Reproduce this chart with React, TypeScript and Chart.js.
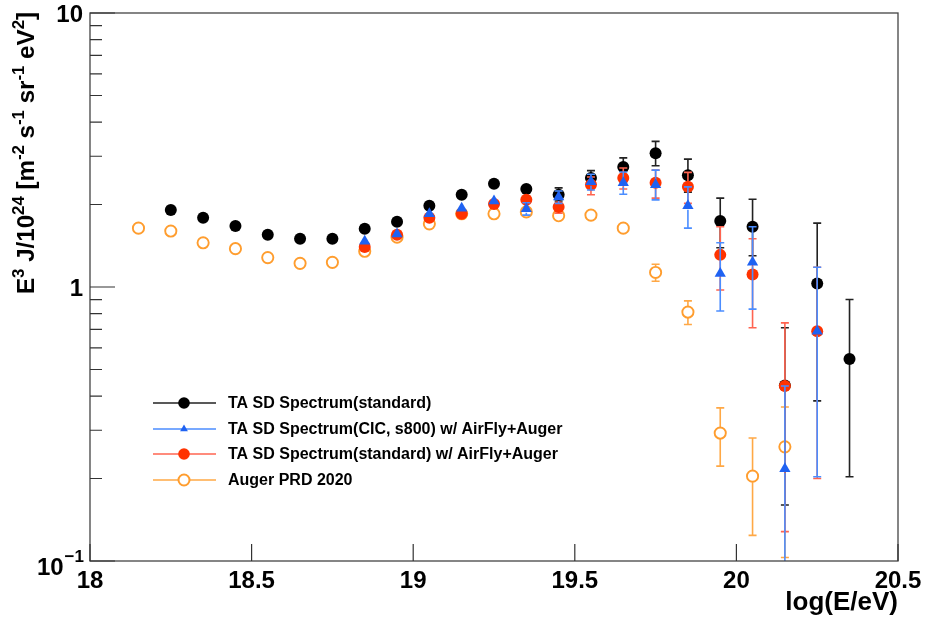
import React, { useEffect, useRef } from "react";
import { Chart, registerables } from "chart.js";

Chart.register(...registerables);

// ---------------- data ----------------
const taStdX = [18.25, 18.35, 18.45, 18.55, 18.65, 18.75, 18.85, 18.95, 19.05, 19.15, 19.25, 19.35, 19.45, 19.55, 19.65, 19.75, 19.85, 19.95, 20.05, 20.15, 20.25, 20.35];
const taStdY = [1.91, 1.79, 1.67, 1.55, 1.5, 1.5, 1.63, 1.73, 1.98, 2.17, 2.38, 2.28, 2.17, 2.5, 2.74, 3.08, 2.56, 1.74, 1.66, 0.437, 1.03, 0.546];
const taStdHi = [1.93, 1.81, 1.69, 1.57, 1.52, 1.52, 1.66, 1.77, 2.03, 2.23, 2.46, 2.37, 2.3, 2.66, 2.96, 3.4, 2.93, 2.11, 2.09, 0.71, 1.71, 0.9];
const taStdLo = [1.89, 1.77, 1.65, 1.53, 1.48, 1.48, 1.6, 1.69, 1.93, 2.11, 2.3, 2.19, 2.06, 2.34, 2.52, 2.77, 2.22, 1.39, 1.3, 0.16, 0.384, 0.203];

const taCicX = [18.85, 18.95, 19.05, 19.15, 19.25, 19.35, 19.45, 19.55, 19.65, 19.75, 19.85, 19.95, 20.05, 20.15, 20.25];
const taCicY = [1.47, 1.56, 1.85, 1.94, 2.06, 1.93, 2.13, 2.42, 2.4, 2.36, 1.98, 1.12, 1.23, 0.217, 0.69];
const taCicHi = [1.5, 1.6, 1.9, 2.0, 2.14, 2.03, 2.24, 2.58, 2.63, 2.67, 2.32, 1.45, 1.66, 0.435, 1.18];
const taCicLo = [1.44, 1.52, 1.8, 1.88, 1.98, 1.83, 2.02, 2.26, 2.18, 2.08, 1.64, 0.817, 0.83, 0.09, 0.203];

const taAfX = [18.85, 18.95, 19.05, 19.15, 19.25, 19.35, 19.45, 19.55, 19.65, 19.75, 19.85, 19.95, 20.05, 20.15, 20.25];
const taAfY = [1.4, 1.55, 1.79, 1.85, 2.01, 2.08, 1.96, 2.36, 2.5, 2.4, 2.32, 1.31, 1.11, 0.435, 0.69];
const taAfHi = [1.43, 1.59, 1.84, 1.91, 2.08, 2.17, 2.06, 2.52, 2.72, 2.67, 2.62, 1.66, 1.5, 0.74, 1.18];
const taAfLo = [1.37, 1.51, 1.74, 1.79, 1.94, 1.99, 1.86, 2.17, 2.28, 2.11, 2.02, 0.975, 0.71, 0.128, 0.2];

const augerX = [18.15, 18.25, 18.35, 18.45, 18.55, 18.65, 18.75, 18.85, 18.95, 19.05, 19.15, 19.25, 19.35, 19.45, 19.55, 19.65, 19.75, 19.85, 19.95, 20.05, 20.15];
const augerY = [1.64, 1.6, 1.45, 1.38, 1.28, 1.22, 1.23, 1.35, 1.52, 1.7, 1.85, 1.85, 1.88, 1.82, 1.83, 1.64, 1.13, 0.81, 0.293, 0.204, 0.261];
const augerHi = [1.65, 1.61, 1.46, 1.39, 1.29, 1.23, 1.24, 1.36, 1.53, 1.71, 1.86, 1.87, 1.9, 1.85, 1.87, 1.69, 1.21, 0.89, 0.362, 0.281, 0.365];
const augerLo = [1.63, 1.59, 1.44, 1.37, 1.27, 1.21, 1.22, 1.34, 1.51, 1.69, 1.84, 1.83, 1.86, 1.79, 1.79, 1.59, 1.05, 0.73, 0.222, 0.124, 0.103];

const seriesLabels = [
  "TA SD Spectrum(standard)",
  "TA SD Spectrum(CIC, s800) w/ AirFly+Auger",
  "TA SD Spectrum(standard) w/ AirFly+Auger",
  "Auger PRD 2020",
];

const xTickValues = [18, 18.5, 19, 19.5, 20, 20.5];
const xTickLabels = ["18", "18.5", "19", "19.5", "20", "20.5"];
const yMajorValues = [0.1, 1, 10];
const yMinorValues = [0.2, 0.3, 0.4, 0.5, 0.6, 0.7, 0.8, 0.9, 2, 3, 4, 5, 6, 7, 8, 9];

// ---------------- styles ----------------
const FF = '"Liberation Sans", Arial, Helvetica, sans-serif';
const BLACK = "#000000";
const BLACK_ERR = "#222222";
const BLUE = "#1f62f2";
const BLUE_ERR = "#4b8dff";
const RED = "#ff3300";
const RED_ERR = "#ff6450";
const ORANGE = "#ff9d2e";
const ORANGE_ERR = "#ffa845";

type ErrSet = { x: number[]; y: number[]; hi: number[]; lo: number[]; color: string; gap: number };

const errSets: ErrSet[] = [
  { x: taStdX, y: taStdY, hi: taStdHi, lo: taStdLo, color: BLACK_ERR, gap: 5 },
  { x: taCicX, y: taCicY, hi: taCicHi, lo: taCicLo, color: BLUE_ERR, gap: 4 },
  { x: taAfX, y: taAfY, hi: taAfHi, lo: taAfLo, color: RED_ERR, gap: 5 },
  { x: augerX, y: augerY, hi: augerHi, lo: augerLo, color: ORANGE_ERR, gap: 6 },
];

const toPts = (xs: number[], ys: number[]) => xs.map((x, i) => ({ x, y: ys[i] }));

const errorBarPlugin = {
  id: "errorBars",
  beforeDatasetDraw(chart: any, args: any) {
    const s = errSets[args.index];
    if (!s) return;
    const { ctx, chartArea: a, scales } = chart;
    ctx.save();
    ctx.beginPath();
    ctx.rect(a.left, a.top, a.right - a.left, a.bottom - a.top);
    ctx.clip();
    ctx.strokeStyle = s.color;
    ctx.lineWidth = 1.6;
    const cap = 4;
    for (let i = 0; i < s.x.length; i++) {
      const px = scales.x.getPixelForValue(s.x[i]);
      const py = scales.y.getPixelForValue(s.y[i]);
      const ph = scales.y.getPixelForValue(s.hi[i]);
      const pl = scales.y.getPixelForValue(s.lo[i]);
      ctx.beginPath();
      if (py - ph > s.gap + 1) {
        ctx.moveTo(px, py - s.gap);
        ctx.lineTo(px, ph);
        ctx.moveTo(px - cap, ph);
        ctx.lineTo(px + cap, ph);
      }
      if (pl - py > s.gap + 1) {
        ctx.moveTo(px, py + s.gap);
        ctx.lineTo(px, pl);
        ctx.moveTo(px - cap, pl);
        ctx.lineTo(px + cap, pl);
      }
      ctx.stroke();
    }
    ctx.restore();
  },
};

type Seg = { t: string; sup?: boolean };

const framePlugin = {
  id: "rootFrame",
  afterDraw(chart: any) {
    const { ctx, chartArea: a, scales } = chart;
    ctx.save();
    // frame
    ctx.strokeStyle = "#444";
    ctx.lineWidth = 1.3;
    ctx.strokeRect(a.left, a.top, a.right - a.left, a.bottom - a.top);
    // ticks
    ctx.strokeStyle = "#333";
    ctx.lineWidth = 1.2;
    ctx.beginPath();
    xTickValues.forEach((v) => {
      const px = scales.x.getPixelForValue(v);
      ctx.moveTo(px, a.bottom);
      ctx.lineTo(px, a.bottom - 17);
    });
    yMajorValues.forEach((v) => {
      const py = scales.y.getPixelForValue(v);
      ctx.moveTo(a.left, py);
      ctx.lineTo(a.left + 25, py);
    });
    yMinorValues.forEach((v) => {
      const py = scales.y.getPixelForValue(v);
      ctx.moveTo(a.left, py);
      ctx.lineTo(a.left + 12, py);
    });
    ctx.stroke();

    // x tick labels
    ctx.fillStyle = "#000";
    ctx.font = `bold 24px ${FF}`;
    ctx.textAlign = "center";
    ctx.textBaseline = "alphabetic";
    xTickValues.forEach((v, i) => {
      const px = scales.x.getPixelForValue(v);
      ctx.fillText(xTickLabels[i], px, a.bottom + 27);
    });

    // y tick labels
    ctx.textAlign = "right";
    ctx.textBaseline = "middle";
    ctx.font = `bold 24px ${FF}`;
    const p10 = scales.y.getPixelForValue(10);
    const p1 = scales.y.getPixelForValue(1);
    const p01 = scales.y.getPixelForValue(0.1);
    ctx.fillText("10", a.left - 7, p10 + 2);
    ctx.fillText("1", a.left - 7, p1 + 2);
    // 10^-1
    ctx.textBaseline = "alphabetic";
    ctx.font = `bold 17px ${FF}`;
    const supW = ctx.measureText("\u22121").width;
    ctx.fillText("\u22121", a.left - 6, p01 + 1);
    ctx.font = `bold 24px ${FF}`;
    ctx.fillText("10", a.left - 7 - supW, p01 + 14);

    // x title
    ctx.textAlign = "right";
    ctx.font = `bold 26px ${FF}`;
    ctx.fillText("log(E/eV)", a.right, 610);

    // y title (rotated, right-aligned at top of axis)
    const segs: Seg[] = [
      { t: "E" },
      { t: "3", sup: true },
      { t: " J/10" },
      { t: "24", sup: true },
      { t: " [m" },
      { t: "-2", sup: true },
      { t: " s" },
      { t: "-1", sup: true },
      { t: " sr" },
      { t: "-1", sup: true },
      { t: " eV" },
      { t: "2", sup: true },
      { t: "]" },
    ];
    const mainF = `bold 23px ${FF}`;
    const supF = `bold 16px ${FF}`;
    let total = 0;
    const widths = segs.map((s) => {
      ctx.font = s.sup ? supF : mainF;
      const w = ctx.measureText(s.t).width;
      total += w;
      return w;
    });
    const targetLen = 282;
    const sx = targetLen / total;
    ctx.translate(34, 12);
    ctx.rotate(-Math.PI / 2);
    ctx.scale(sx, 1);
    ctx.textAlign = "left";
    ctx.textBaseline = "alphabetic";
    let cx = -total;
    segs.forEach((s, i) => {
      ctx.font = s.sup ? supF : mainF;
      ctx.fillText(s.t, cx, s.sup ? -10 : 0);
      cx += widths[i];
    });
    ctx.restore();
  },
};

const legendPlugin = {
  id: "rootLegend",
  afterDraw(chart: any) {
    const { ctx } = chart;
    const rows = [403, 429, 454, 480];
    const lineColors = ["#222", BLUE_ERR, RED_ERR, ORANGE_ERR];
    ctx.save();
    rows.forEach((y, i) => {
      ctx.strokeStyle = lineColors[i];
      ctx.lineWidth = 1.5;
      ctx.beginPath();
      ctx.moveTo(153, y);
      ctx.lineTo(216, y);
      ctx.stroke();
      const mx = 184;
      if (i === 0 || i === 2) {
        ctx.fillStyle = i === 0 ? BLACK : RED;
        ctx.beginPath();
        ctx.arc(mx, y, 5.8, 0, Math.PI * 2);
        ctx.fill();
      } else if (i === 1) {
        ctx.fillStyle = BLUE;
        const r = 4.5;
        ctx.beginPath();
        ctx.moveTo(mx, y - r);
        ctx.lineTo(mx + r * 0.866, y + r * 0.5);
        ctx.lineTo(mx - r * 0.866, y + r * 0.5);
        ctx.closePath();
        ctx.fill();
      } else {
        ctx.fillStyle = "#fff";
        ctx.strokeStyle = ORANGE;
        ctx.lineWidth = 2;
        ctx.beginPath();
        ctx.arc(mx, y, 5.5, 0, Math.PI * 2);
        ctx.fill();
        ctx.stroke();
      }
      ctx.fillStyle = "#000";
      ctx.font = `bold 16px ${FF}`;
      ctx.textAlign = "left";
      ctx.textBaseline = "middle";
      ctx.fillText(seriesLabels[i], 228, y + 1);
    });
    ctx.restore();
  },
};

export default function App() {
  const ref = useRef<HTMLCanvasElement>(null);

  useEffect(() => {
    if (!ref.current) return;
    const chart = new Chart(ref.current, {
      type: "scatter",
      data: {
        datasets: [
          {
            label: seriesLabels[0],
            data: toPts(taStdX, taStdY),
            pointStyle: "circle",
            pointRadius: 6,
            pointBackgroundColor: BLACK,
            pointBorderWidth: 0,
            showLine: false,
            order: 2,
          },
          {
            label: seriesLabels[1],
            data: toPts(taCicX, taCicY),
            pointStyle: "triangle",
            pointRadius: 6.5,
            pointBackgroundColor: BLUE,
            pointBorderWidth: 0,
            showLine: false,
            order: 0,
          },
          {
            label: seriesLabels[2],
            data: toPts(taAfX, taAfY),
            pointStyle: "circle",
            pointRadius: 6,
            pointBackgroundColor: RED,
            pointBorderWidth: 0,
            showLine: false,
            order: 1,
          },
          {
            label: seriesLabels[3],
            data: toPts(augerX, augerY),
            pointStyle: "circle",
            pointRadius: 5.6,
            pointBackgroundColor: "rgba(255,255,255,0)",
            pointBorderColor: ORANGE,
            pointBorderWidth: 1.9,
            showLine: false,
            order: 3,
          },
        ] as any,
      },
      options: {
        animation: false,
        responsive: true,
        maintainAspectRatio: false,
        events: [],
        layout: { padding: { left: 90, right: 27, top: 13, bottom: 62 } },
        plugins: { legend: { display: false }, tooltip: { enabled: false } },
        scales: {
          x: { type: "linear", min: 18, max: 20.5, display: false },
          y: { type: "logarithmic", min: 0.1, max: 10, display: false },
        },
      },
      plugins: [errorBarPlugin, framePlugin, legendPlugin],
    });
    return () => chart.destroy();
  }, []);

  return (
    <div style={{ position: "absolute", left: 0, top: 0, width: 925, height: 623, background: "#fff" }}>
      <canvas ref={ref} />
    </div>
  );
}
